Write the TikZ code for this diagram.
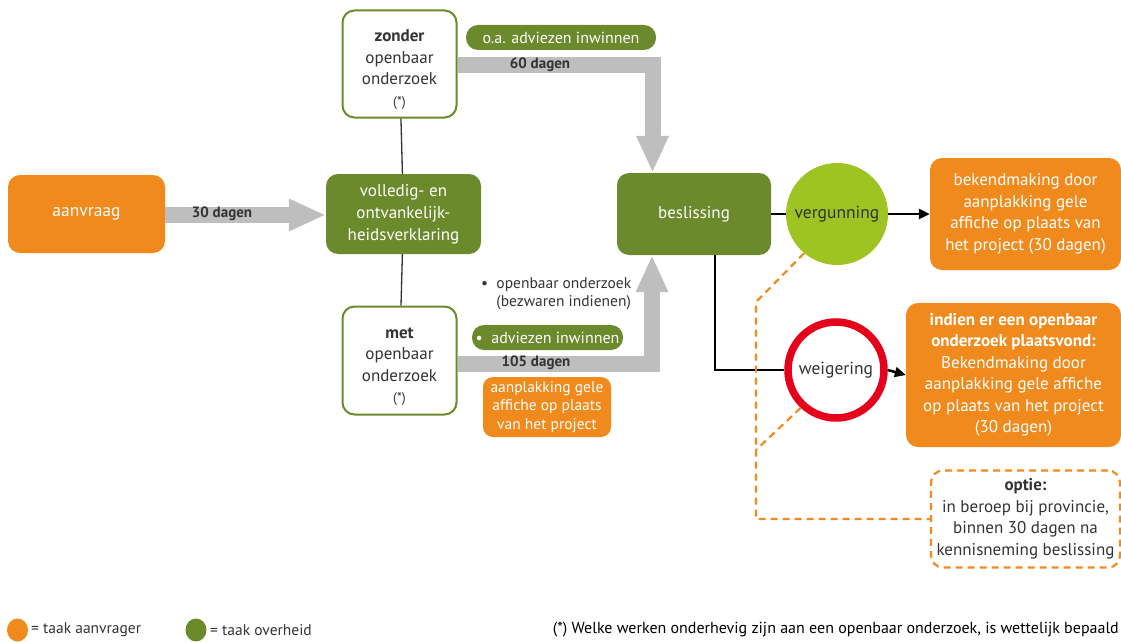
\documentclass[tikz,border=0pt]{standalone}
\usepackage{fontspec}
\setmainfont{PT Sans}
\usetikzlibrary{arrows.meta,shapes.geometric}
\definecolor{orng}{HTML}{F08A1C}
\definecolor{grn}{HTML}{6A8A2C}
\definecolor{lgrn}{HTML}{9DC422}
\definecolor{gry}{HTML}{BEBEBE}
\definecolor{txt}{HTML}{333333}
\definecolor{rd}{HTML}{E5001B}
\begin{document}
\begin{tikzpicture}[x=1pt,y=-1pt,
  box/.style={rounded corners=12pt, align=center, inner sep=0pt, font=\fontsize{17}{22}\selectfont},
  obox/.style={box, fill=orng, text=white},
  gbox/.style={box, fill=grn, text=white},
  wbox/.style={box, draw=grn, line width=2pt, fill=white, text=txt},
  pill/.style={rounded corners=12pt, fill=grn, text=white, font=\fontsize{16}{18}\selectfont, inner sep=0pt},
  garrow/.style={draw=gry, line width=16pt, line join=miter, -{Triangle[length=37pt,width=30pt]}},
  glabel/.style={font=\fontsize{15}{16}\selectfont\bfseries, text=txt},
  blk/.style={draw=black, line width=2.5pt},
  blkarrow/.style={blk, -{Triangle[length=11pt,width=10pt]}},
  dsh/.style={draw=orng, line width=2.2pt, dash pattern=on 7pt off 5pt},
  vline/.style={draw=txt, line width=1.3pt},
  small/.style={font=\fontsize{15.5}{18}\selectfont, text=txt}
]
\useasboundingbox (0,0) rectangle (1121,642);

% nodes
\node[obox, minimum width=157pt, minimum height=78pt, font=\fontsize{17.5}{22}\selectfont] (aanvraag) at (86.5,214) {aanvraag};
\node[gbox, minimum width=155pt, minimum height=80pt] (volledig) at (403.5,214) {volledig- en\\ontvankelijk-\\heidsverklaring};
\node[wbox, minimum width=114pt, minimum height=107pt, font=\fontsize{17}{21.5}\selectfont] (zonder) at (399.5,64) {\rule{0pt}{23pt}\textbf{zonder}\\openbaar\\onderzoek\\{\fontsize{14}{16}\selectfont(*)}};
\node[wbox, minimum width=114pt, minimum height=108pt, font=\fontsize{17}{21.5}\selectfont] (met) at (399.5,360.5) {\rule{0pt}{23pt}\textbf{met}\\openbaar\\onderzoek\\{\fontsize{14}{16}\selectfont(*)}};
\node[gbox, minimum width=154pt, minimum height=82pt] (beslissing) at (694,214) {beslissing};
\node[circle, fill=lgrn, minimum size=102pt, inner sep=0pt, font=\fontsize{17.5}{20}\selectfont, text=txt] (vergunning) at (837,214) {vergunning};
\node[circle, draw=rd, line width=7.5pt, fill=white, minimum size=96pt, inner sep=0pt, font=\fontsize{17.5}{20}\selectfont, text=txt] (weigering) at (836,370) {weigering};
\node[obox, minimum width=191pt, minimum height=112pt, font=\fontsize{17}{21.5}\selectfont] (bek1) at (1025.5,214) {bekendmaking door\\aanplakking gele\\affiche op plaats van\\het project (30 dagen)};
\node[obox, minimum width=215pt, minimum height=144pt, font=\fontsize{17}{21.5}\selectfont] (bek2) at (1013.5,375) {\textbf{indien er een openbaar}\\\textbf{onderzoek plaatsvond:}\\Bekendmaking door\\aanplakking gele affiche\\op plaats van het project\\(30 dagen)};
\node[box, dsh, minimum width=189pt, minimum height=97pt, text=txt, font=\fontsize{17}{21.5}\selectfont] (optie) at (1025.5,519) {\textbf{optie:}\\in beroep bij provincie,\\binnen 30 dagen na\\kennisneming beslissing};
\node[pill, minimum width=190pt, minimum height=25pt] (adv1) at (561,37.5) {o.a. adviezen inwinnen};
\node[pill, minimum width=151pt, minimum height=25pt] (adv2) at (547.5,337.5) {\textbullet\ \ adviezen inwinnen};
\node[obox, rounded corners=10pt, minimum width=128pt, minimum height=60pt, font=\fontsize{15.5}{18.5}\selectfont] (aanpl) at (547,407) {aanplakking gele\\affiche op plaats\\van het project};
\node[small, anchor=west, align=left, inner sep=0pt] (openb) at (481,293.5) {\textbullet\ \ openbaar onderzoek\\\hphantom{\textbullet\ \ }(bezwaren indienen)};

% vertical connectors
\draw[vline] (zonder) -- (volledig);
\draw[vline] (volledig) -- (met);

% grey arrows
\draw[garrow] ([yshift=-1pt]aanvraag.east) -- ([yshift=-1pt]volledig.west);
\node[glabel] (l30) at (222,214) {30 dagen};
\draw[garrow] ([yshift=-1pt]zonder.east) -| ([xshift=-41.5pt]beslissing.north);
\node[glabel] (l60) at (540,65) {60 dagen};
\draw[garrow] ([yshift=-3pt]met.east) -| ([xshift=-42pt]beslissing.south);
\node[glabel] (l105) at (536,363) {105 dagen};

% black connectors
\draw[blk] (beslissing.east) -- (vergunning.west);
\draw[blkarrow] (vergunning.east) -- (bek1.west);
\draw[blk] ([xshift=21pt]beslissing.south) |- (weigering.west);
\draw[blkarrow] (weigering.east) -- (bek2.west);

% dashed option connectors
\coordinate (c1) at (756,302);
\coordinate (c2) at (756,450);
\draw[dsh] (vergunning.-130) -- (c1) -- (c1 |- optie.west) -- (optie.west);
\draw[dsh] (weigering.-133) -- (c2);

% legend
\node[ellipse, fill=orng, minimum width=21pt, minimum height=23pt, inner sep=0pt] (lo) at (17.5,630) {};
\node[small, anchor=west, inner sep=0pt] (lot) at (31,630) {= taak aanvrager};
\node[ellipse, fill=grn, minimum width=21pt, minimum height=23pt, inner sep=0pt] (lg) at (196,630) {};
\node[small, anchor=west, inner sep=0pt] (lgt) at (210,630) {= taak overheid};
\node[small, anchor=east, inner sep=0pt, text=black, font=\fontsize{16}{18}\selectfont] (foot) at (1119,630) {(*) Welke werken onderhevig zijn aan een openbaar onderzoek, is wettelijk bepaald};
\end{tikzpicture}
\end{document}
